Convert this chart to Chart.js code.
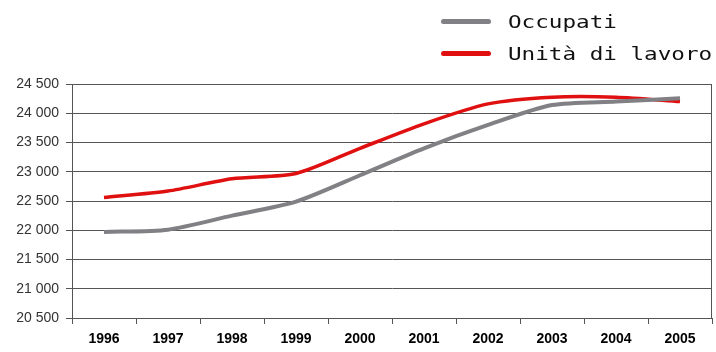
<!DOCTYPE html>
<html>
<head>
<meta charset="utf-8">
<script src="https://cdn.jsdelivr.net/npm/chart.js@4/dist/chart.umd.min.js"></script>
<style>
  html, body { margin: 0; padding: 0; background: #fff; }
  #wrap { position: relative; width: 716px; height: 352px; }
  #legend { position: absolute; left: 441px; top: 8px; font-family: "DejaVu Sans Mono", monospace; font-size: 17px; color: #111; }
  #legend div { height: 32px; line-height: 28px; white-space: nowrap; }
  #legend span.sw { display: inline-block; width: 50px; height: 5px; border-radius: 3px; vertical-align: middle; margin-right: 17px; margin-top: -3px; }
  #legend span.txt { display: inline-block; transform: scaleX(1.33); transform-origin: left center; }
</style>
</head>
<body>
<div id="wrap">
  <canvas id="chart" width="716" height="352"></canvas>
  <div id="legend"></div>
</div>
<script>
// data
const years = ['1996', '1997', '1998', '1999', '2000', '2001', '2002', '2003', '2004', '2005'];
const occupati = [21970, 22010, 22250, 22490, 22940, 23400, 23800, 24140, 24200, 24255];
const unitaLavoro = [22560, 22670, 22880, 22970, 23400, 23820, 24160, 24275, 24275, 24200];
const yTicks = [20500, 21000, 21500, 22000, 22500, 23000, 23500, 24000, 24500];

const seriesNames = ['Occupati', 'Unità di lavoro'];
const seriesColors = ['#808085', '#e01010'];

// frame round the plot area
const frame = {
    id: 'frame',
    afterDraw(chart) {
        const a = chart.chartArea;
        const ctx = chart.ctx;
        ctx.save();
        ctx.strokeStyle = '#555';
        ctx.lineWidth = 1;
        ctx.strokeRect(a.left + 0.5, a.top + 0.5, a.right - a.left - 1, a.bottom - a.top);
        ctx.restore();
    }
};

const ctx = document.getElementById('chart').getContext('2d');
const myChart = new Chart(ctx, {
    type: 'line',
    data: {
        labels: years,
        datasets: [{
            label: seriesNames[0],
            data: occupati,
            borderColor: seriesColors[0],
            borderWidth: 4,
            pointRadius: 0,
            tension: 0.25
        }, {
            label: seriesNames[1],
            data: unitaLavoro,
            borderColor: seriesColors[1],
            borderWidth: 3.5,
            pointRadius: 0,
            tension: 0.25
        }]
    },
    options: {
        responsive: false,
        animation: false,
        layout: { padding: { left: 4, right: 4, top: 84, bottom: 0 } },
        plugins: {
            legend: { display: false },
            tooltip: { enabled: false }
        },
        scales: {
            x: {
                offset: true,
                afterFit(scale) { scale.height = 34; },
                grid: { offset: true, drawOnChartArea: false, color: '#555', tickLength: 6 },
                border: { color: '#555' },
                ticks: { color: '#000', font: { family: 'Liberation Sans', size: 14, weight: 'bold' }, padding: 7, maxRotation: 0 }
            },
            y: {
                min: 20500,
                max: 24500,
                afterBuildTicks(scale) {
                    scale.ticks = yTicks.map(v => ({ value: v }));
                },
                afterFit(scale) { scale.width = 68; },
                grid: { color: '#555', tickLength: 6 },
                border: { color: '#555' },
                ticks: {
                    color: '#333',
                    font: { family: 'Liberation Sans', size: 14 },
                    padding: 7,
                    callback: v => String(v).replace(/(\d{2})(\d{3})$/, '$1 $2')
                }
            }
        }
    },
    plugins: [frame]
});

// legend as html text, built from the datasets
const legend = document.getElementById('legend');
myChart.data.datasets.forEach(ds => {
    const row = document.createElement('div');
    const sw = document.createElement('span');
    sw.className = 'sw';
    sw.style.background = ds.borderColor;
    const txt = document.createElement('span');
    txt.className = 'txt';
    txt.textContent = ds.label;
    row.appendChild(sw);
    row.appendChild(txt);
    legend.appendChild(row);
});
</script>
</body>
</html>
